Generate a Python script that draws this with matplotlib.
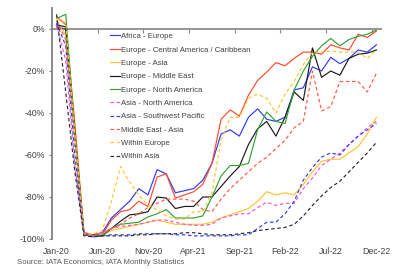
import matplotlib
matplotlib.use("Agg")
import matplotlib.pyplot as plt
import numpy as np

plt.rcParams["font.family"] = ["Liberation Sans", "DejaVu Sans"]

months = [f"{m}-{y}" for y in ("20", "21", "22")
          for m in ("Jan", "Feb", "Mar", "Apr", "May", "Jun",
                    "Jul", "Aug", "Sep", "Oct", "Nov", "Dec")]
tick_labels = ["Jan-20", "Jun-20", "Nov-20", "Apr-21", "Sep-21", "Feb-22", "Jul-22", "Dec-22"]

# % change vs 2019, international RPKs by route area
africa_europe = [1, 0, -50, -98, -98, -97, -90, -86, -82, -76, -79, -67,
                 -69, -78, -77, -76, -72, -64, -50, -48, -51, -42, -38, -43,
                 -44, -42, -29, -28, -18, -20, -13.5, -16.5, -14, -10, -11, -7.5]
europe_central_america = [6, 2, -45, -97, -98, -98, -91, -87, -86, -82, -84.5, -70.5,
                          -69, -80.5, -79, -77.5, -74, -64, -43, -38.5, -41.5, -31.5, -24.5, -20.5,
                          -16, -17.5, -14, -11, -11, -12, -7.5, -9, -10, -2.5, -4, -1]
europe_asia = [4, -3, -52, -98, -98.5, -98, -96, -95, -94, -93, -92, -91,
               -92, -93, -93, -93, -93, -92, -90, -88.5, -87, -85.5, -82, -77.5,
               -79, -78, -79, -74, -68, -63, -62, -62, -59, -56, -50, -42]
europe_middle_east = [2, 1, -50, -98, -98, -98.5, -95, -91.5, -88.5, -88, -87, -80,
                      -80.5, -85.5, -84.5, -84.5, -80, -80, -75, -70, -65.5, -55, -47.5, -44,
                      -51, -42, -30, -34, -9, -23, -20, -22, -14, -12, -11.5, -10]
europe_north_america = [5, 7, -50, -98, -98.5, -98.5, -95, -93, -92.5, -92, -89.5, -88,
                        -86, -90, -90, -90, -89, -80, -70, -65, -65, -64, -48, -39.5,
                        -44, -45, -29, -20, -13, -8, -4.5, -8, -5, -3.5, -2.5, -0.5]
asia_north_america = [2, -15, -65, -98, -98.5, -97, -95, -94, -93.5, -93, -92, -91,
                      -91, -92, -93, -93.5, -93.5, -93, -90, -89, -88, -88, -85, -82.5,
                      -84, -83, -83, -76, -71, -65, -62, -59, -55, -51, -47, -44]
asia_sw_pacific = [3, -8, -60, -98, -99, -98.5, -98, -98, -98, -97.5, -97.5, -97.5,
                   -97.5, -98, -98, -98.5, -98.5, -98.5, -98.5, -98.5, -98, -98, -95, -92,
                   -92, -88, -82, -72, -66, -61, -59, -60, -55, -51, -48, -45]
middle_east_asia = [4, -5, -50, -97, -98, -97, -95, -93, -90, -88, -85, -83,
                    -81, -81, -81, -82, -86, -87, -81, -76, -72, -68, -64, -61,
                    -57, -53, -47, -44, -20, -39, -37, -25, -25, -25, -30, -21]
within_europe = [5, 3, -50, -98, -97.5, -96, -82, -65.5, -73, -79, -84, -86,
                 -89, -90.5, -90.5, -87, -87, -78, -53, -42, -42, -33, -31, -33,
                 -40, -31, -25, -17, -11, -11, -10.5, -11, -11, -11, -14, -10]
within_asia = [7, -30, -68, -98.5, -99, -98.5, -98.5, -98.5, -98.5, -98, -98, -97.5,
               -97.5, -97.5, -97, -97, -97.5, -98, -98, -98, -97.5, -97, -96, -95.5,
               -95, -94.5, -93, -89, -84, -79.5, -75.5, -72.5, -68, -63.5, -59, -54]

series = [
    ("Africa - Europe", africa_europe, "#2b3cff", "-"),
    ("Europe - Central America / Caribbean", europe_central_america, "#ff4a2e", "-"),
    ("Europe - Asia", europe_asia, "#ffc42e", "-"),
    ("Europe - Middle East", europe_middle_east, "#1a1a1a", "-"),
    ("Europe - North America", europe_north_america, "#35a035", "-"),
    ("Asia - North America", asia_north_america, "#ff4fd2", "--"),
    ("Asia - Southwest Pacific", asia_sw_pacific, "#2b3cff", "--"),
    ("Middle East - Asia", middle_east_asia, "#ff5a45", "--"),
    ("Within Europe", within_europe, "#ffc42e", "--"),
    ("Within Asia", within_asia, "#2a2a2a", "--"),
]

fig = plt.figure(figsize=(4.03, 2.75), dpi=100)
ax = fig.add_axes([52 / 403, 1 - 239 / 275, 329 / 403, 231 / 275])

x = np.arange(len(months))
for name, vals, color, ls in series:
    kw = dict(dashes=(3, 2.2)) if ls == "--" else {}
    ax.plot(x, vals, color=color, lw=0.85, label=name, zorder=3, **kw)

ax.set_xlim(-0.5, len(months) - 0.5)
ax.set_ylim(-100, 10)
ax.set_yticks(np.arange(-100, 1, 20))
ax.set_yticklabels([f"{v}%" for v in range(-100, 1, 20)])

for side in ("top", "right"):
    ax.spines[side].set_visible(False)
ax.spines["left"].set_color("#7f7f7f")
ax.spines["left"].set_linewidth(1.3)
ax.spines["bottom"].set_position(("data", 0))
ax.spines["bottom"].set_color("#8c8c8c")
ax.spines["bottom"].set_linewidth(1.3)
ax.spines["bottom"].set_zorder(1)

# tick marks between categories on the zero line
ax.set_xticks(np.arange(4.5, len(months), 5))
ax.tick_params(axis="x", length=3, width=0.8, color="#8c8c8c", labelbottom=False)
ax.tick_params(axis="y", length=2, width=0.8, color="#7f7f7f",
               labelsize=6.3, labelcolor="#404040", pad=3)

sec = ax.secondary_xaxis(0)
sec.set_xticks([months.index(t) for t in tick_labels])
sec.set_xticklabels(tick_labels)
sec.tick_params(length=0, labelsize=6.3, labelcolor="#404040", pad=6)
sec.spines["bottom"].set_visible(False)

leg = ax.legend(loc="upper left", bbox_to_anchor=(0.176, 0.893), frameon=False,
                fontsize=5.6, handlelength=1.35, handletextpad=0.1,
                labelspacing=0.76, borderpad=0, borderaxespad=0)
for t in leg.get_texts():
    t.set_color("#404040")

fig.text(17 / 403, 1 - 262 / 275, "Source: IATA Economics, IATA Monthly Statistics",
         fontsize=5.6, color="#595959", va="center", ha="left")

fig.savefig("out.png", dpi=100)
